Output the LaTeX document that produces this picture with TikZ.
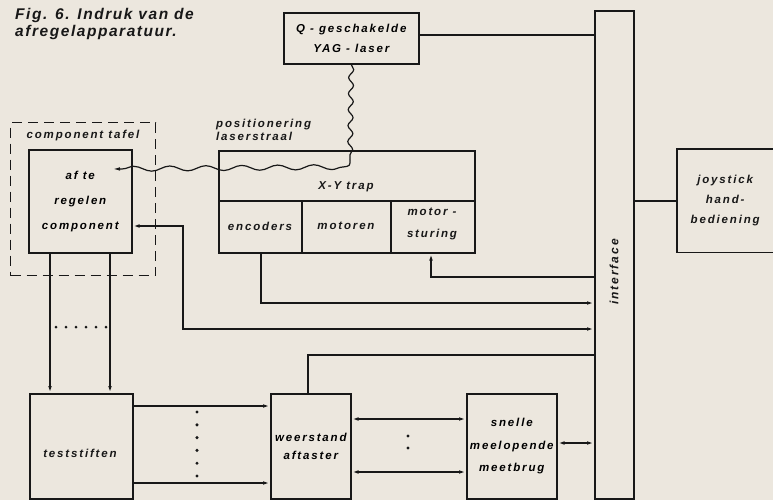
\documentclass[tikz,border=0pt]{standalone}
\usepackage{fontspec}
\setmainfont{Liberation Sans}
\newfontfamily\labfont{Liberation Sans}[LetterSpace=16]
\newfontfamily\titfont{Liberation Sans}[LetterSpace=10]
\usetikzlibrary{arrows.meta,decorations.pathmorphing,calc}
\definecolor{paper}{RGB}{236,231,222}
\definecolor{ink}{RGB}{24,24,24}
\tikzset{
  box/.style={draw=ink, line width=1.6pt, inner sep=0pt, anchor=north west},
  lab/.style={text=ink, align=center, inner sep=0pt},
  conn/.style={draw=ink, line width=1.4pt},
  mk/.tip={Latex[length=7pt,width=3.6pt]},
  wave/.style={draw=ink, line width=1.2pt, decorate},
}
\newcommand{\lf}[1]{\labfont\bfseries\itshape\fontsize{11.5}{#1}\selectfont}
\begin{document}
\begin{tikzpicture}[x=1pt,y=-1pt]
\useasboundingbox (0,0) rectangle (773,500);
\fill[paper] (0,0) rectangle (773,500);

% title
\node[anchor=north west, align=left, inner sep=0pt, text=ink,
      font=\titfont\bfseries\itshape\fontsize{15.5}{17.5}\selectfont] (title) at (15,8)
      {Fig. 6. Indruk van de\\afregelapparatuur.};

% boxes
\node[box, minimum width=135, minimum height=51, font=\lf{20}, align=center] (Q) at (283,12)
      {Q - geschakelde\\YAG - laser};
\node[box, minimum width=39, minimum height=488] (IF) at (594,10) {};
\node[lab, rotate=90, font=\lf{12}\fontsize{12}{12}\selectfont] (IFt) at (614,272) {interface};
\node[lab, minimum width=96, minimum height=103, anchor=north west, font=\lf{20}] (JS) at (677,149)
      {joystick\\hand-\\bediening};
\draw[draw=ink, line width=1.6pt] (JS.north east) -- (JS.north west) -- (JS.south west) -- (JS.south east);

\node[draw=ink, line width=1.4pt, dash pattern=on 10pt off 6pt, inner sep=0pt, anchor=north west,
      minimum width=145, minimum height=153] (CT) at (10,122) {};
\node[lab, font=\lf{12}] (CTt) at (83,136) {component tafel};
\node[box, minimum width=103, minimum height=103, font=\lf{25}, align=center] (AT) at (28,149)
      {af te\\regelen\\component};

\node[box, minimum width=256, minimum height=102] (XY) at (218,150) {};
\draw[draw=ink, line width=1.6pt] (XY.west |- 0,201) -- (XY.east |- 0,201)
   (302,201) -- (302,0 |- XY.south) (391,201) -- (391,0 |- XY.south);
\node[lab, font=\lf{12}] (XYt) at (346,187) {X-Y trap};
\node[lab, font=\lf{12}] (ENC) at (260,226) {encoders};
\node[lab, font=\lf{12}] (MOT) at (346,226) {motoren};
\node[lab, font=\lf{22}] (MS) at (432,224) {motor -\\sturing};

\node[lab, anchor=west, align=left, font=\lf{13}] (POS) at (216,130) {positionering\\laserstraal};

\node[box, minimum width=103, minimum height=105] (TS) at (29,393) {};
\node[lab, font=\lf{12}] (TSt) at (80,453) {teststiften};
\node[box, minimum width=80, minimum height=105, font=\lf{18}, align=center] (WA) at (270,393)
      {weerstand\\aftaster};
\node[box, minimum width=90, minimum height=105, font=\lf{22.5}, align=center] (SM) at (466,393)
      {snelle\\meelopende\\meetbrug};

% connectors
\draw[conn] (Q.east |- 0,35) -- (IF.west |- 0,35);
\draw[conn] (IF.east |- 0,201) -- (JS.west |- 0,201);

\coordinate (wc1) at (350,160);
\coordinate (wc2) at (343,167);
\coordinate (spot) at (113,169);
\draw[wave, decoration={snake, segment length=16pt, amplitude=2.5pt, post length=2pt}] (Q.south) -- (wc1);
\draw[conn, line width=1.2pt] (wc1) .. controls (350,166) .. (wc2);
\draw[wave, -mk, decoration={snake, segment length=36pt, amplitude=2.5pt, post length=9pt}] (wc2) -- (spot);

\draw[conn, mk-mk] (AT.east |- 0,226) -| (183,329) -- (IF.west |- 0,329);
\draw[conn, -mk] (261,0 |- XY.south) |- (IF.west |- 0,303);
\draw[conn, -mk] (IF.west |- 0,277) -| (431,0 |- XY.south);
\draw[conn] (308,0 |- WA.north) |- (IF.west |- 0,355);

\draw[conn, -mk] (50,0 |- AT.south) -- (50,0 |- TS.north);
\draw[conn, -mk] (110,0 |- AT.south) -- (110,0 |- TS.north);
\draw[conn, -mk] (TS.east |- 0,406) -- (WA.west |- 0,406);
\draw[conn, -mk] (TS.east |- 0,483) -- (WA.west |- 0,483);
\draw[conn, mk-mk] (WA.east |- 0,419) -- (SM.west |- 0,419);
\draw[conn, mk-mk] (WA.east |- 0,472) -- (SM.west |- 0,472);
\draw[conn, mk-mk] (SM.east |- 0,443) -- (IF.west |- 0,443);

% dots
\foreach \x in {56,66,76,86,96,106} \fill[ink] (\x,327) circle (1.5pt);
\foreach \y in {412,424.8,437.6,450.4,463.2,476} \fill[ink] (197,\y) circle (1.7pt);
\foreach \y in {436,448} \fill[ink] (408,\y) circle (1.7pt);
\end{tikzpicture}
\end{document}
